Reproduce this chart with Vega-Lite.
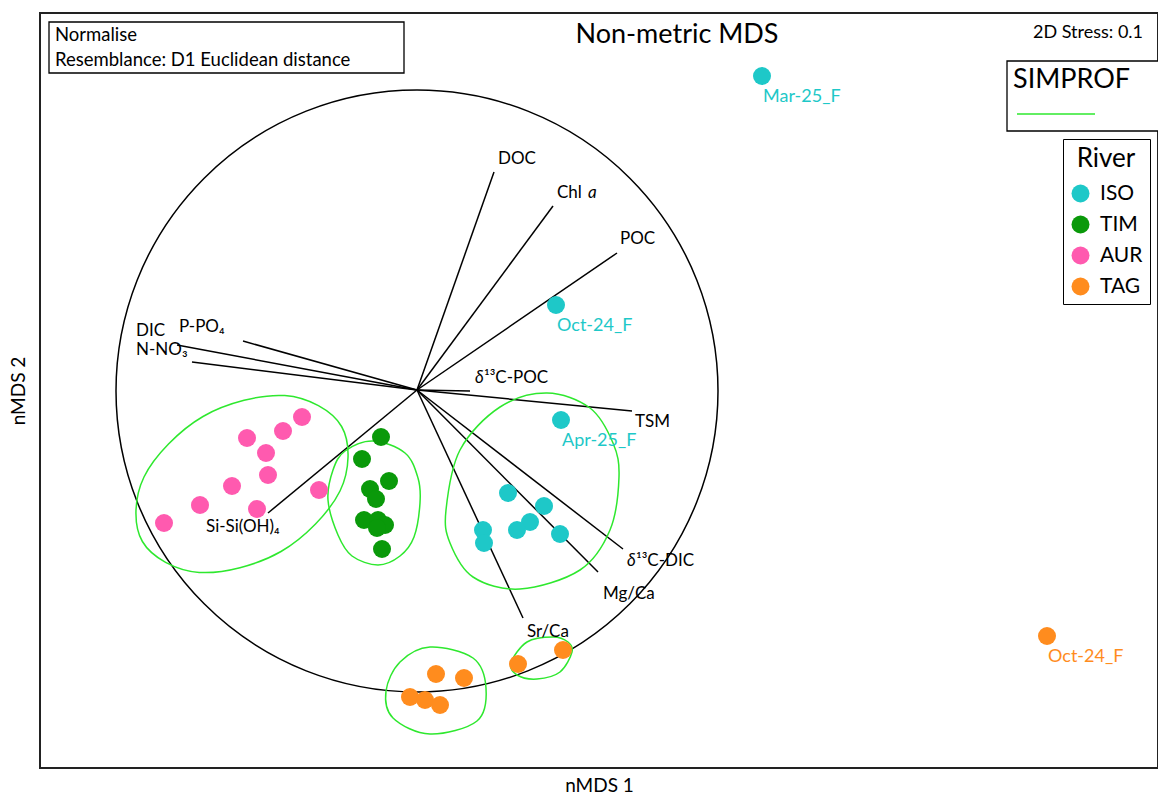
{
 "$schema": "https://vega.github.io/schema/vega-lite/v6.json",
 "width": 1118, "height": 755,
 "autosize": {"type": "none"},
 "padding": {"left": 40, "top": 13, "right": 0, "bottom": 26},
 "background": "white",
 "config": {"view": {"stroke": "#222", "strokeWidth": 2}, "font": "Lato"},
 "datasets": {
  "pts": [
   {"r":"ISO","x":3.45,"y":3.14,"lab":"Mar-25_F"},
   {"r":"ISO","x":1.39,"y":0.85,"lab":"Oct-24_F"},
   {"r":"ISO","x":1.44,"y":-0.30,"lab":"Apr-25_F"},
   {"r":"ISO","x":0.91,"y":-1.03,"lab":""},
   {"r":"ISO","x":1.27,"y":-1.16,"lab":""},
   {"r":"ISO","x":1.13,"y":-1.32,"lab":""},
   {"r":"ISO","x":1.00,"y":-1.40,"lab":""},
   {"r":"ISO","x":1.43,"y":-1.44,"lab":""},
   {"r":"ISO","x":0.66,"y":-1.40,"lab":""},
   {"r":"ISO","x":0.67,"y":-1.53,"lab":""},
   {"r":"TIM","x":-0.36,"y":-0.47,"lab":""},
   {"r":"TIM","x":-0.55,"y":-0.69,"lab":""},
   {"r":"TIM","x":-0.28,"y":-0.91,"lab":""},
   {"r":"TIM","x":-0.47,"y":-0.99,"lab":""},
   {"r":"TIM","x":-0.41,"y":-1.09,"lab":""},
   {"r":"TIM","x":-0.53,"y":-1.30,"lab":""},
   {"r":"TIM","x":-0.39,"y":-1.30,"lab":""},
   {"r":"TIM","x":-0.32,"y":-1.35,"lab":""},
   {"r":"TIM","x":-0.40,"y":-1.38,"lab":""},
   {"r":"TIM","x":-0.35,"y":-1.59,"lab":""},
   {"r":"AUR","x":-1.15,"y":-0.27,"lab":""},
   {"r":"AUR","x":-1.34,"y":-0.41,"lab":""},
   {"r":"AUR","x":-1.70,"y":-0.48,"lab":""},
   {"r":"AUR","x":-1.51,"y":-0.63,"lab":""},
   {"r":"AUR","x":-1.49,"y":-0.85,"lab":""},
   {"r":"AUR","x":-1.85,"y":-0.96,"lab":""},
   {"r":"AUR","x":-0.98,"y":-1.00,"lab":""},
   {"r":"AUR","x":-2.17,"y":-1.15,"lab":""},
   {"r":"AUR","x":-1.60,"y":-1.19,"lab":""},
   {"r":"AUR","x":-2.53,"y":-1.33,"lab":""},
   {"r":"TAG","x":0.19,"y":-2.84,"lab":""},
   {"r":"TAG","x":0.47,"y":-2.88,"lab":""},
   {"r":"TAG","x":-0.07,"y":-3.07,"lab":""},
   {"r":"TAG","x":0.08,"y":-3.10,"lab":""},
   {"r":"TAG","x":0.23,"y":-3.15,"lab":""},
   {"r":"TAG","x":1.01,"y":-2.74,"lab":""},
   {"r":"TAG","x":1.46,"y":-2.60,"lab":""},
   {"r":"TAG","x":6.30,"y":-2.46,"lab":"Oct-24_F"}
  ],
  "vec": [
   {"v":"DOC","x":0.77,"y":2.18},
   {"v":"Chl a","x":1.36,"y":1.84},
   {"v":"POC","x":2.00,"y":1.37},
   {"v":"DIC","x":-2.40,"y":0.45},
   {"v":"P-PO4","x":-1.74,"y":0.49},
   {"v":"N-NO3","x":-2.25,"y":0.28},
   {"v":"d13C-POC","x":0.53,"y":-0.01},
   {"v":"TSM","x":2.15,"y":-0.21},
   {"v":"d13C-DIC","x":2.06,"y":-1.59},
   {"v":"Mg/Ca","x":1.81,"y":-1.82},
   {"v":"Sr/Ca","x":1.06,"y":-2.28},
   {"v":"Si-Si(OH)4","x":-1.49,"y":-1.23}
  ],
  "veclab": [
   {"t":"DOC","x":0.81,"y":2.31},
   {"t":"Chl","x":1.40,"y":1.97},
   {"t":"POC","x":2.03,"y":1.51},
   {"t":"DIC","x":-2.81,"y":0.59},
   {"t":"P-PO₄","x":-2.38,"y":0.63},
   {"t":"N-NO₃","x":-2.81,"y":0.40},
   {"t":"¹³C-POC","x":0.67,"y":0.12},
   {"t":"TSM","x":2.18,"y":-0.32},
   {"t":"¹³C-DIC","x":2.19,"y":-1.71},
   {"t":"Mg/Ca","x":1.86,"y":-2.04},
   {"t":"Sr/Ca","x":1.10,"y":-2.42},
   {"t":"Si-Si(OH)₄","x":-2.11,"y":-1.37}
  ],
  "italic": [
   {"t":"a","x":1.71,"y":1.97},
   {"t":"δ","x":0.58,"y":0.12},
   {"t":"δ","x":2.10,"y":-1.71}
  ],
  "ell": [
   {"g":"AUR","o":1,"x":-0.754,"y":-0.365},
   {"g":"AUR","o":2,"x":-1.322,"y":-0.056},
   {"g":"AUR","o":3,"x":-2.14,"y":-0.265},
   {"g":"AUR","o":4,"x":-2.73,"y":-0.87},
   {"g":"AUR","o":5,"x":-2.746,"y":-1.515},
   {"g":"AUR","o":6,"x":-2.178,"y":-1.824},
   {"g":"AUR","o":7,"x":-1.36,"y":-1.615},
   {"g":"AUR","o":8,"x":-0.77,"y":-1.01},
   {"g":"TIM","o":1,"x":-0.44,"y":-0.51},
   {"g":"TIM","o":2,"x":-0.12,"y":-0.63},
   {"g":"TIM","o":3,"x":0.01,"y":-0.88},
   {"g":"TIM","o":4,"x":0.03,"y":-1.13},
   {"g":"TIM","o":5,"x":-0.03,"y":-1.47},
   {"g":"TIM","o":6,"x":-0.17,"y":-1.66},
   {"g":"TIM","o":7,"x":-0.39,"y":-1.75},
   {"g":"TIM","o":8,"x":-0.65,"y":-1.66},
   {"g":"TIM","o":9,"x":-0.79,"y":-1.45},
   {"g":"TIM","o":10,"x":-0.89,"y":-1.10},
   {"g":"TIM","o":11,"x":-0.84,"y":-0.80},
   {"g":"TIM","o":12,"x":-0.72,"y":-0.61},
   {"g":"ISO","o":1,"x":1.30,"y":-0.03},
   {"g":"ISO","o":2,"x":1.73,"y":-0.18},
   {"g":"ISO","o":3,"x":1.96,"y":-0.53},
   {"g":"ISO","o":4,"x":2.02,"y":-0.87},
   {"g":"ISO","o":5,"x":1.93,"y":-1.40},
   {"g":"ISO","o":6,"x":1.63,"y":-1.80},
   {"g":"ISO","o":7,"x":1.03,"y":-1.99},
   {"g":"ISO","o":8,"x":0.56,"y":-1.87},
   {"g":"ISO","o":9,"x":0.33,"y":-1.53},
   {"g":"ISO","o":10,"x":0.29,"y":-1.20},
   {"g":"ISO","o":11,"x":0.43,"y":-0.60},
   {"g":"ISO","o":12,"x":0.83,"y":-0.17},
   {"g":"TAG1","o":1,"x":-0.31,"y":-3.01},
   {"g":"TAG1","o":2,"x":-0.17,"y":-2.72},
   {"g":"TAG1","o":3,"x":0.13,"y":-2.57},
   {"g":"TAG1","o":4,"x":0.56,"y":-2.68},
   {"g":"TAG1","o":5,"x":0.69,"y":-2.98},
   {"g":"TAG1","o":6,"x":0.60,"y":-3.31},
   {"g":"TAG1","o":7,"x":0.13,"y":-3.44},
   {"g":"TAG1","o":8,"x":-0.24,"y":-3.28},
   {"g":"TAG2","o":1,"x":0.94,"y":-2.73},
   {"g":"TAG2","o":2,"x":1.10,"y":-2.52},
   {"g":"TAG2","o":3,"x":1.36,"y":-2.47},
   {"g":"TAG2","o":4,"x":1.51,"y":-2.52},
   {"g":"TAG2","o":5,"x":1.55,"y":-2.62},
   {"g":"TAG2","o":6,"x":1.43,"y":-2.82},
   {"g":"TAG2","o":7,"x":1.20,"y":-2.89},
   {"g":"TAG2","o":8,"x":1.00,"y":-2.85}
  ]
 },
 "encoding": {
  "x": {"field": "x", "type": "quantitative",
        "scale": {"domain": [-3.77, 7.41], "nice": false, "zero": false},
        "axis": {"title": "nMDS 1", "domain": false, "ticks": false, "labels": false, "grid": false,
                 "titleFont": "Lato", "titleFontSize": 19, "titleFontWeight": "normal", "titleColor": "black", "titlePadding": 8}},
  "y": {"field": "y", "type": "quantitative",
        "scale": {"domain": [-3.78, 3.77], "nice": false, "zero": false},
        "axis": {"title": "nMDS 2", "domain": false, "ticks": false, "labels": false, "grid": false,
                 "titleFont": "Lato", "titleFontSize": 19, "titleFontWeight": "normal", "titleColor": "black", "titlePadding": 12}}
 },
 "layer": [
  {"data": {"values": [{"x": 0, "y": -0.01}]},
   "mark": {"type": "point", "shape": "circle", "filled": false, "size": 362404, "stroke": "black", "strokeWidth": 1.5, "opacity": 1}},
  {"data": {"name": "vec"},
   "mark": {"type": "rule", "color": "black", "strokeWidth": 1.5},
   "encoding": {"x2": {"datum": 0}, "y2": {"datum": 0}}},
  {"data": {"name": "ell"},
   "mark": {"type": "line", "interpolate": "cardinal-closed", "color": "#2ee82e", "strokeWidth": 1.5},
   "encoding": {"detail": {"field": "g"}, "order": {"field": "o", "type": "quantitative"}}},
  {"data": {"name": "pts"},
   "mark": {"type": "point", "shape": "circle", "filled": true, "size": 324, "opacity": 1},
   "encoding": {"color": {"field": "r", "type": "nominal",
     "scale": {"domain": ["ISO", "TIM", "AUR", "TAG"], "range": ["#1ec8c8", "#0a990a", "#ff5aaf", "#ff8c1e"]},
     "legend": {"orient": "none", "legendX": 1023, "legendY": 126, "title": "River",
       "titleFont": "Lato", "titleFontSize": 26, "titleFontWeight": "normal", "titleColor": "black", "titleAnchor": "middle",
       "labelFont": "Lato", "labelFontSize": 21, "labelColor": "black", "symbolType": "circle", "symbolSize": 324,
       "symbolStrokeWidth": 0, "symbolOpacity": 1, "strokeColor": "black", "fillColor": "white",
       "padding": 7, "rowPadding": 9, "titlePadding": 11, "labelOffset": 9}}}},
  {"data": {"name": "pts"},
   "transform": [{"filter": "datum.lab != ''"}],
   "mark": {"type": "text", "align": "left", "baseline": "middle", "dx": 1, "dy": 21, "fontSize": 18, "font": "Lato"},
   "encoding": {"text": {"field": "lab"}, "color": {"field": "r", "type": "nominal", "legend": null}}},
  {"data": {"name": "veclab"},
   "mark": {"type": "text", "align": "left", "baseline": "middle", "fontSize": 17, "font": "Lato", "color": "black"},
   "encoding": {"text": {"field": "t"}}},
  {"data": {"name": "italic"},
   "mark": {"type": "text", "align": "left", "baseline": "middle", "fontSize": 17, "font": "Lato", "fontStyle": "italic", "color": "black"},
   "encoding": {"text": {"field": "t"}}},
  {"data": {"values": [{"x": -3.68, "x2": -0.13, "y": 3.68, "y2": 3.17}, {"x": 5.90, "x2": 7.45, "y": 3.29, "y2": 2.59}]},
   "mark": {"type": "rect", "fill": "white", "stroke": "black", "strokeWidth": 1.3},
   "encoding": {"x2": {"field": "x2"}, "y2": {"field": "y2"}}},
  {"data": {"values": [{"x": 6.00, "x2": 6.78, "y": 2.76}]},
   "mark": {"type": "rule", "color": "#2ee82e", "strokeWidth": 1.5},
   "encoding": {"x2": {"field": "x2"}}},
  {"data": {"values": [{"t": "Normalise", "x": -3.62, "y": 3.55}, {"t": "Resemblance: D1 Euclidean distance", "x": -3.62, "y": 3.30}]},
   "mark": {"type": "text", "align": "left", "baseline": "middle", "fontSize": 18.5, "font": "Lato", "color": "black"},
   "encoding": {"text": {"field": "t"}}},
  {"data": {"values": [{"t": "Non-metric MDS", "x": 2.60, "y": 3.55}]},
   "mark": {"type": "text", "align": "center", "baseline": "middle", "fontSize": 27, "font": "Lato", "color": "black"},
   "encoding": {"text": {"field": "t"}}},
  {"data": {"values": [{"t": "2D Stress: 0.1", "x": 6.71, "y": 3.57}]},
   "mark": {"type": "text", "align": "center", "baseline": "middle", "fontSize": 18, "font": "Lato", "color": "black"},
   "encoding": {"text": {"field": "t"}}},
  {"data": {"values": [{"t": "SIMPROF", "x": 5.96, "y": 3.10}]},
   "mark": {"type": "text", "align": "left", "baseline": "middle", "fontSize": 27, "font": "Lato", "color": "black"},
   "encoding": {"text": {"field": "t"}}}
 ]
}
